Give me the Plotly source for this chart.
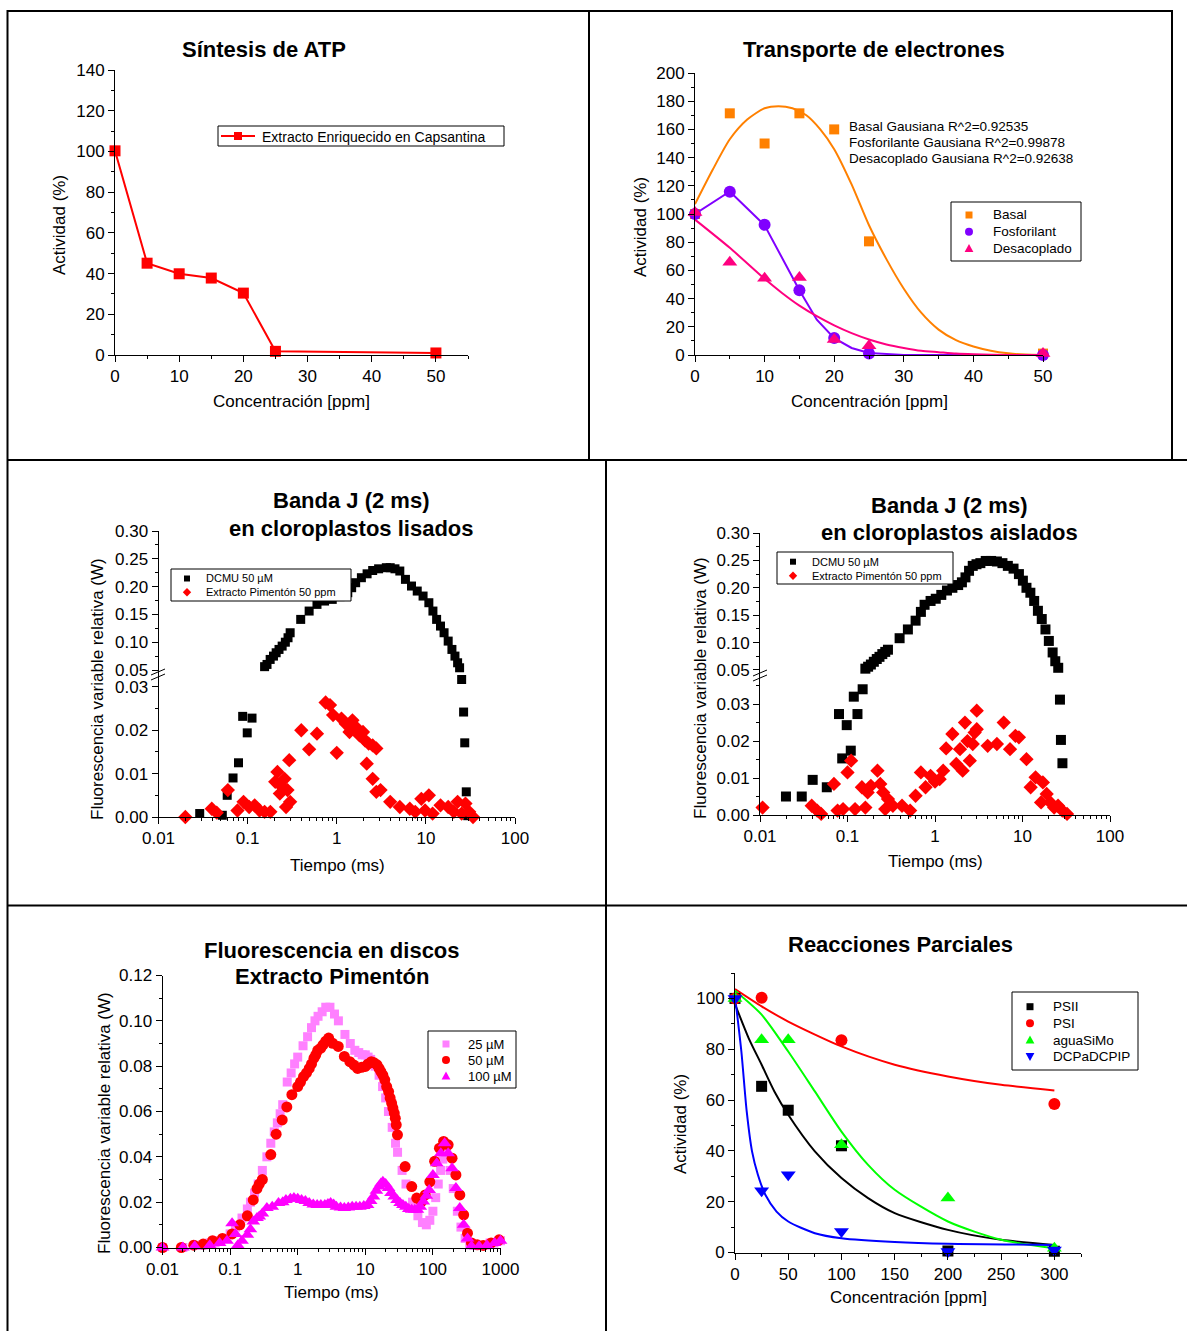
import plotly.graph_objects as go

W, H = 1187, 1331
FONT = "Liberation Sans, Arial, Helvetica, sans-serif"


def fx(p):
    return p / W


def fy(p):
    return 1 - p / H


# ---------------- Panel 1: Síntesis de ATP ----------------
ATP_CONC = [0, 5, 10, 15, 20, 25, 50]
ATP_ACT = [100.3, 45.1, 39.9, 37.8, 30.4, 1.8, 1.0]
ATP_NAME = "Extracto Enriquecido en Capsantina"

# ---------------- Panel 2: Transporte de electrones ----------------
ET_CONC = [0, 5, 10, 15, 20, 25, 50]
ET_BASAL = [100, 171.4, 150, 171.4, 160, 80.6, 1]
ET_FOSF = [100, 115.8, 92.4, 46, 12, 1, 0]
ET_DESAC = [101, 65.7, 54.4, 55, 11, 6.6, 1]
ET_NAMES = ["Basal", "Fosforilant", "Desacoplado"]

BASAL_FIT_X = [0, 2.5, 5, 7.5, 10, 12, 14, 16, 18, 20, 22.5, 25, 27.5, 30, 32.5, 35, 37.5, 40, 42.5, 45, 47.5, 50]
BASAL_FIT_Y = [107, 131, 153, 167, 175, 176.5, 175, 170, 160, 146, 121, 92, 68, 47, 30, 18, 10.5, 6, 3, 1.2, 0.3, 0]
FOSF_FIT_X = [0, 5, 10, 15, 17.5, 20, 22.5, 25, 30, 50]
FOSF_FIT_Y = [100, 116, 92, 46, 25, 12, 5, 1.5, 0, 0]
DESAC_FIT_X = [0, 5, 10, 12.5, 15, 17.5, 20, 22.5, 25, 27.5, 30, 32.5, 35, 37.5, 40, 45, 50]
DESAC_FIT_Y = [96, 76, 54, 44, 35, 27.5, 21, 15.5, 11, 7.5, 5, 3, 2, 1, 0.5, 0, 0]
ET_NOTES = ["Basal Gausiana R^2=0.92535", "Fosforilante Gausiana R^2=0.99878",
            "Desacoplado Gausiana R^2=0.92638"]

# ---------------- Panel 3: Banda J lisados ----------------
BJ_NAMES = ["DCMU 50 µM", "Extracto Pimentón 50 ppm"]
LIS_DCMU_LOW_T = [0.029, 0.052, 0.059, 0.0686, 0.079, 0.088, 0.099, 0.112, 25.2, 26.5, 27.3, 28.4, 29.5]
LIS_DCMU_LOW_V = [0.0008, 0.0004, 0.005, 0.009, 0.0125, 0.0232, 0.0194, 0.0228, 0.0317, 0.0242, 0.0171, 0.0058, 0.0003]
LIS_DCMU_UP_T = [0.155, 0.165, 0.179, 0.195, 0.209, 0.225, 0.244, 0.265, 0.284, 0.30,
                 0.394, 0.49, 0.6, 0.73, 0.89, 1.09, 1.33, 1.47, 1.63, 1.89,
                 2.19, 2.53, 2.95, 3.6, 3.98, 4.5, 5.1, 5.9, 6.9, 8.0,
                 9.3, 10.8, 12.0, 13.2, 14.6, 16.0, 17.8, 19.6, 21.2, 22.7, 23.9]
LIS_DCMU_UP_V = [0.056, 0.06, 0.069, 0.075, 0.081, 0.087, 0.093, 0.1, 0.108, 0.117,
                 0.141, 0.156, 0.168, 0.174, 0.177, 0.182, 0.189, 0.198, 0.207, 0.216,
                 0.223, 0.229, 0.232, 0.234, 0.234, 0.232, 0.228, 0.213, 0.201, 0.192,
                 0.183, 0.171, 0.156, 0.141, 0.129, 0.117, 0.102, 0.087, 0.075, 0.063, 0.054]
LIS_PIM_T = [0.02, 0.0396, 0.045, 0.06, 0.077, 0.09, 0.104, 0.12, 0.136, 0.155,
             0.18, 0.204, 0.216, 0.23, 0.244, 0.26, 0.27, 0.28, 0.30, 0.293,
             0.40, 0.49, 0.6, 0.75, 0.84, 0.91, 1.0, 1.13, 1.26, 1.39,
             1.5, 1.63, 1.8, 1.97, 2.07, 2.17, 2.28, 2.53, 2.53, 2.78,
             2.78, 3.1, 3.98, 5.1, 6.6, 7.6, 8.9, 9.8, 10.8, 11.9,
             14.6, 17.8, 20.6, 22.7, 25.2, 27.8, 30.6, 33.8]
LIS_PIM_V = [0, 0.0019, 0.001, 0.0062, 0.0015, 0.0035, 0.0023, 0.0027, 0.0015, 0.0012,
             0.0012, 0.0081, 0.0104, 0.0054, 0.0069, 0.0088, 0.0023, 0.0062, 0.0035, 0.0131,
             0.02, 0.0156, 0.0192, 0.0264, 0.0258, 0.0235, 0.0148, 0.0227, 0.0215, 0.0196,
             0.0223, 0.0208, 0.0188, 0.0196, 0.0177, 0.0123, 0.0169, 0.0165, 0.0088, 0.0158,
             0.0058, 0.0062, 0.0035, 0.0023, 0.0019, 0.0012, 0.0042, 0.0015, 0.005, 0.0008,
             0.0027, 0.0023, 0.0012, 0.0035, 0.0008, 0.0031, 0.0012, 0]

# ---------------- Panel 4: Banda J aislados ----------------
AIS_DCMU_LOW_T = [0.0198, 0.03, 0.04, 0.058, 0.08, 0.087, 0.098, 0.109, 0.118, 0.13, 0.149, 26.8, 27.5, 28.6]
AIS_DCMU_LOW_V = [0.005, 0.005, 0.0095, 0.0075, 0.0273, 0.0153, 0.0243, 0.0174, 0.032, 0.0273, 0.034, 0.0312, 0.0203, 0.014]
AIS_DCMU_UP_T = [0.16, 0.172, 0.185, 0.2, 0.216, 0.232, 0.25, 0.27, 0.29, 0.394,
                 0.49, 0.6, 0.69, 0.76, 0.89, 1.02, 1.18, 1.37, 1.58, 1.84,
                 2.03, 2.23, 2.45, 2.7, 2.98, 3.3, 3.8, 4.38, 5.1, 5.9,
                 6.8, 7.9, 9.1, 10.1, 11.1, 12.3, 13.6, 15.0, 16.6, 18.3,
                 20.0, 22.1, 23.7, 25.6]
AIS_DCMU_UP_V = [0.0524, 0.056, 0.06, 0.065, 0.07, 0.074, 0.079, 0.083, 0.087, 0.108,
                 0.124, 0.14, 0.156, 0.169, 0.176, 0.18, 0.187, 0.195, 0.2, 0.205,
                 0.21, 0.219, 0.231, 0.24, 0.243, 0.245, 0.249, 0.249, 0.248, 0.245,
                 0.24, 0.235, 0.225, 0.213, 0.2, 0.191, 0.176, 0.158, 0.143, 0.124,
                 0.103, 0.082, 0.066, 0.054]
AIS_PIM_T = [0.0107, 0.039, 0.045, 0.05, 0.07, 0.077, 0.089, 0.1, 0.11, 0.122,
             0.146, 0.16, 0.17, 0.185, 0.22, 0.237, 0.256, 0.27, 0.29, 0.33,
             0.42, 0.52, 0.6, 0.69, 0.78, 0.89, 1.0, 1.13, 1.24, 1.34,
             1.58, 1.75, 1.93, 2.07, 2.2, 2.35, 2.5, 2.7, 2.84, 3.0,
             3.0, 4.0, 5.1, 6.1, 7.2, 8.3, 9.1, 11.1, 12.4, 14.1,
             16.3, 17.1, 18.9, 20.8, 23.0, 25.5, 28.5, 32.3]
AIS_PIM_V = [0.002, 0.0025, 0.0012, 0.0003, 0.0084, 0.0012, 0.0016, 0.0115, 0.0147, 0.0016,
             0.0075, 0.002, 0.0061, 0.0079, 0.012, 0.0084, 0.0061, 0.0016, 0.0043, 0.0025,
             0.0025, 0.0012, 0.0052, 0.0115, 0.0075, 0.0106, 0.009, 0.0097, 0.012, 0.018,
             0.0219, 0.0138, 0.0178, 0.012, 0.025, 0.02, 0.0147, 0.0192, 0.0223, 0.0232,
             0.0282, 0.0187, 0.0192, 0.025, 0.0178, 0.0214, 0.021, 0.0151, 0.0075, 0.0102,
             0.0034, 0.0088, 0.0057, 0.0034, 0.002, 0.0025, 0.0012, 0.0003]

# ---------------- Panel 5: Fluorescencia en discos ----------------
FD_NAMES = ["25 µM", "50 µM", "100 µM"]
D25_T = [0.01, 0.02, 0.03, 0.04, 0.05, 0.06, 0.07, 0.08, 0.1, 0.12, 0.15, 0.18, 0.2, 0.23, 0.26, 0.3,
         0.35, 0.4, 0.45, 0.5, 0.55, 0.6, 0.7, 0.8, 0.9, 1.0, 1.2, 1.4, 1.6, 1.8, 2.0, 2.3, 2.6, 3.0,
         3.5, 4.0, 5, 6, 7, 8, 9, 10, 11, 12, 14, 16, 18, 20, 22, 25, 28, 30, 35, 40, 50, 60,
         70, 80, 90, 100, 110, 120, 130, 140, 150, 160, 180, 200, 230, 260, 300, 350, 400, 500, 600, 700,
         800, 1000]
D25_V = [0, 0, 0.001, 0.001, 0.002, 0.002, 0.003, 0.004, 0.006, 0.009, 0.013, 0.017, 0.02, 0.024, 0.028, 0.034,
         0.04, 0.046, 0.051, 0.055, 0.059, 0.063, 0.073, 0.077, 0.081, 0.084, 0.089, 0.093, 0.097, 0.1, 0.102,
         0.104, 0.106, 0.106, 0.103, 0.1, 0.094, 0.09, 0.087, 0.086, 0.085, 0.085, 0.084, 0.083, 0.08, 0.076,
         0.071, 0.066, 0.06, 0.053, 0.046, 0.042, 0.034, 0.028, 0.02, 0.014,
         0.011, 0.01, 0.012, 0.016, 0.022, 0.028, 0.034, 0.039, 0.042, 0.041, 0.034, 0.026, 0.016, 0.009,
         0.004, 0.002, 0.001, 0.001, 0.001, 0.002, 0.002, 0.003]
D50_T = [0.01, 0.019, 0.029, 0.04, 0.055, 0.077, 0.107, 0.139, 0.18, 0.22,
         0.25, 0.27, 0.3, 0.4, 0.48, 0.59, 0.69, 0.82, 1.0, 1.1,
         1.22, 1.35, 1.48, 1.6, 1.74, 1.85, 1.98, 2.2, 2.37, 2.6,
         2.87, 3.3, 3.98, 4.9, 5.9, 6.8, 7.7, 8.8, 10, 11,
         12.3, 13.5, 14.9, 16, 17, 18.2, 19.4, 20.7, 22.1, 23.3,
         24.5, 25.6, 26.8, 27.8, 28.7, 29.9, 38.8, 48.6, 57.7, 67.7,
         77, 90, 106, 125, 144, 168, 192, 219, 250, 285,
         325, 372, 452, 556, 727, 950]
D50_V = [0, 0, 0.001, 0.0015, 0.003, 0.004, 0.006, 0.01, 0.014, 0.021,
         0.026, 0.028, 0.03, 0.041, 0.05, 0.0563, 0.062, 0.0674, 0.071, 0.073,
         0.0754, 0.077, 0.079, 0.081, 0.0835, 0.085, 0.087, 0.088, 0.0894, 0.091,
         0.0924, 0.0901, 0.0887, 0.0843, 0.082, 0.0805, 0.079, 0.0795, 0.0799, 0.081,
         0.082, 0.0815, 0.0806, 0.079, 0.0776, 0.076, 0.074, 0.071, 0.0688, 0.066,
         0.0637, 0.0615, 0.0593, 0.057, 0.0541, 0.0497, 0.0357, 0.0269, 0.0218, 0.0203,
         0.0232, 0.029, 0.038, 0.0438, 0.0468, 0.0453, 0.0394, 0.032, 0.0232, 0.0144,
         0.0063, 0.002, 0.0012, 0.0009, 0.002, 0.0034]
D100_T = [0.01, 0.02, 0.03, 0.05, 0.07, 0.09, 0.107, 0.12, 0.13, 0.15,
          0.18, 0.2, 0.22, 0.25, 0.27, 0.3, 0.35, 0.42, 0.52, 0.6,
          0.67, 0.78, 0.88, 1.0, 1.14, 1.3, 1.48, 1.7, 1.94, 2.2,
          2.52, 2.8, 3.07, 3.4, 3.73, 4.3, 4.9, 5.6, 6.4, 7.3,
          8.3, 9.5, 10.8, 12, 13.2, 14.6, 16, 17, 18.2, 20,
          22.1, 24, 26.8, 29.5, 32.7, 36, 39.8, 44, 48.6, 54,
          59, 65, 72, 80, 88, 100, 114, 131, 149, 168,
          192, 219, 250, 285, 325, 372, 482, 630, 820, 1000]
D100_V = [0, 0, 0.0005, 0.001, 0.002, 0.003, 0.0107, 0.006, 0.001, 0.003,
          0.0056, 0.008, 0.0115, 0.013, 0.0137, 0.015, 0.0174, 0.018, 0.0196, 0.020,
          0.021, 0.0215, 0.0218, 0.0215, 0.021, 0.0205, 0.0196, 0.019, 0.0188, 0.0188,
          0.0188, 0.0192, 0.0196, 0.019, 0.018, 0.0177, 0.0174, 0.0177, 0.018, 0.018,
          0.018, 0.0183, 0.0188, 0.0205, 0.0225, 0.025, 0.0269, 0.0282, 0.029, 0.028,
          0.0262, 0.024, 0.0225, 0.021, 0.0196, 0.0188, 0.018, 0.017, 0.0166, 0.0166,
          0.0166, 0.018, 0.0203, 0.0228, 0.0254, 0.032, 0.0372, 0.0416, 0.0460, 0.0416,
          0.035, 0.0262, 0.0174, 0.01, 0.004, 0.0005, 0.0005, 0.001, 0.002, 0.003]

# ---------------- Panel 6: Reacciones Parciales ----------------
RP_NAMES = ["PSII", "PSI", "aguaSiMo", "DCPaDCPIP"]
RP_CONC = [0, 25, 50, 100, 200, 300]
RP_PSII = [100, 65.4, 56, 42, 0.6, 0.5]
RP_PSI = [100, 100.3, None, 83.5, None, 58.4]
RP_AGUA = [100, 83.7, 83.7, 42.4, 21.4, 1.7]
RP_DCP = [100, 24.3, 30.6, 8.3, 0.4, 1.0]

FIT_PSI_X = [0, 25, 50, 100, 150, 200, 250, 300]
FIT_PSI_Y = [103.7, 96.9, 90.9, 81.1, 73.9, 69.3, 66, 63.8]
FIT_PSII_X = [0, 12.8, 25, 37, 50, 75, 100, 125, 150, 200, 250, 300]
FIT_PSII_Y = [97.8, 84.4, 73.9, 63.4, 54.2, 39.8, 29.3, 21.4, 15.5, 8.9, 5, 3]
FIT_AGUA_X = [0, 25, 50, 75, 100, 125, 150, 200, 250, 300]
FIT_AGUA_Y = [103, 93.6, 79.1, 63.4, 47.6, 34.5, 24.7, 12.2, 5, 1.7]
FIT_DCP_X = [0, 6, 11, 16, 21.5, 28.5, 39, 50, 75, 100, 150, 200, 300]
FIT_DCP_Y = [100.8, 79, 55.5, 39.8, 30.6, 22.7, 16.1, 12.2, 7.6, 5.6, 4.1, 3.4, 3]

LOG_TICKS = [0.01, 0.1, 1, 10, 100, 1000]
LOG_LABELS = ["0.01", "0.1", "1", "10", "100", "1000"]
LOG_MINOR = [k * 10.0 ** e for e in range(-2, 3) for k in range(2, 10)]

RED = "#FF0000"
ORANGE = "#FF8000"
PURPLE = "#8000FF"
PINK = "#FF0080"
BLACK = "#000000"
LPINK = "#FF80FF"
MAGENTA = "#FF00FF"
GREEN = "#00FF00"
BLUE = "#0000FF"


def axis(**kw):
    d = dict(showline=True, linecolor="black", linewidth=1, ticks="outside", ticklen=6,
             tickwidth=1, tickcolor="black", showgrid=False, zeroline=False, automargin=False,
             tickfont=dict(family=FONT, size=17, color="black"), fixedrange=True)
    d.update(kw)
    return d


def mnr(dt=None, vals=None):
    m = dict(ticks="outside", ticklen=3, tickwidth=1, tickcolor="black", showgrid=False)
    if dt is not None:
        m["dtick"] = dt
    if vals is not None:
        m["tickmode"] = "array"
        m["tickvals"] = vals
    return m


def logaxis(**kw):
    d = axis(type="log", tickmode="array", tickvals=LOG_TICKS, ticktext=LOG_LABELS,
             minor=mnr(vals=LOG_MINOR))
    d.update(kw)
    return d


fig = go.Figure()


def pts(x, y, xa, ya, sym, size, color, mode="markers", line=None, name=None):
    kw = dict(x=x, y=y, xaxis=xa, yaxis=ya, mode=mode, showlegend=False, cliponaxis=False,
              name=name, marker=dict(symbol=sym, size=size, color=color))
    if line is not None:
        kw["line"] = line
    fig.add_trace(go.Scatter(**kw))


def fit(x, y, xa, ya, color, shape="spline"):
    fig.add_trace(go.Scatter(x=x, y=y, xaxis=xa, yaxis=ya, mode="lines", showlegend=False,
                             hoverinfo="skip", cliponaxis=False,
                             line=dict(color=color, width=2, shape=shape, smoothing=0.7)))


# Panel 1
pts(ATP_CONC, ATP_ACT, "x", "y", "square", 11, RED, mode="lines+markers",
    line=dict(color=RED, width=2), name=ATP_NAME)

# Panel 2
fit(BASAL_FIT_X, BASAL_FIT_Y, "x2", "y2", ORANGE)
fit(FOSF_FIT_X, FOSF_FIT_Y, "x2", "y2", PURPLE, "linear")
fit(DESAC_FIT_X, DESAC_FIT_Y, "x2", "y2", PINK)
pts(ET_CONC, ET_BASAL, "x2", "y2", "square", 10, ORANGE, name=ET_NAMES[0])
pts(ET_CONC, ET_FOSF, "x2", "y2", "circle", 12, PURPLE, name=ET_NAMES[1])
pts(ET_CONC, ET_DESAC, "x2", "y2", "triangle-up", 13, PINK, name=ET_NAMES[2])

# Panel 3
pts(LIS_DCMU_UP_T, LIS_DCMU_UP_V, "x3", "y4", "square", 9, BLACK, name=BJ_NAMES[0])
pts(LIS_DCMU_LOW_T, LIS_DCMU_LOW_V, "x3", "y3", "square", 9, BLACK, name=BJ_NAMES[0])
pts(LIS_PIM_T, LIS_PIM_V, "x3", "y3", "diamond", 11, RED, name=BJ_NAMES[1])

# Panel 4
pts(AIS_DCMU_UP_T, AIS_DCMU_UP_V, "x4", "y6", "square", 10, BLACK, name=BJ_NAMES[0])
pts(AIS_DCMU_LOW_T, AIS_DCMU_LOW_V, "x4", "y5", "square", 10, BLACK, name=BJ_NAMES[0])
pts(AIS_PIM_T, AIS_PIM_V, "x4", "y5", "diamond", 11, RED, name=BJ_NAMES[1])

# Panel 5
pts(D25_T, D25_V, "x5", "y7", "square", 9, LPINK, name=FD_NAMES[0])
pts(D50_T, D50_V, "x5", "y7", "circle", 11, RED, name=FD_NAMES[1])
pts(D100_T, D100_V, "x5", "y7", "triangle-up", 12, MAGENTA, name=FD_NAMES[2])

# Panel 6
fit(FIT_PSII_X, FIT_PSII_Y, "x6", "y8", BLACK)
fit(FIT_PSI_X, FIT_PSI_Y, "x6", "y8", RED)
fit(FIT_AGUA_X, FIT_AGUA_Y, "x6", "y8", GREEN)
fit(FIT_DCP_X, FIT_DCP_Y, "x6", "y8", BLUE)
pts(RP_CONC, RP_PSII, "x6", "y8", "square", 11, BLACK, name=RP_NAMES[0])
pts(RP_CONC, RP_PSI, "x6", "y8", "circle", 12, RED, name=RP_NAMES[1])
pts(RP_CONC, RP_AGUA, "x6", "y8", "triangle-up", 13, GREEN, name=RP_NAMES[2])
pts(RP_CONC, RP_DCP, "x6", "y8", "triangle-down", 13, BLUE, name=RP_NAMES[3])

annotations = []


def text(x, y, s, size=17, bold=False, angle=0, xanchor="center"):
    annotations.append(dict(x=fx(x), y=fy(y), xref="paper", yref="paper", showarrow=False,
                            text=("<b>%s</b>" % s) if bold else s, textangle=angle,
                            xanchor=xanchor, yanchor="middle",
                            font=dict(family=FONT, size=size, color="black")))


# titles
text(264, 50, "Síntesis de ATP", 22, True)
text(874, 50, "Transporte de electrones", 22, True)
text(351, 501, "Banda J (2 ms)", 22, True)
text(351, 528, "en cloroplastos lisados", 22, True)
text(949, 505, "Banda J (2 ms)", 22, True)
text(949, 532, "en cloroplastos aislados", 22, True)
text(332, 950, "Fluorescencia en discos", 22, True)
text(332, 976, "Extracto Pimentón", 22, True)
text(900, 944, "Reacciones Parciales", 22, True)
# axis titles
text(291, 401, "Concentración [ppm]")
text(59, 225, "Actividad (%)", angle=-90)
text(869, 401, "Concentración [ppm]")
text(640, 227, "Actividad (%)", angle=-90)
text(337, 865, "Tiempo (ms)")
text(97, 689, "Fluorescencia variable relativa (W)", angle=-90)
text(935, 861, "Tiempo (ms)")
text(700, 688, "Fluorescencia variable relativa (W)", angle=-90)
text(331, 1292, "Tiempo (ms)")
text(104, 1123, "Fluorescencia variable relativa (W)", angle=-90)
text(908, 1297, "Concentración [ppm]")
text(680, 1124, "Actividad (%)", angle=-90)
# fit notes
for i, s in enumerate(ET_NOTES):
    text(847, 126 + 16.3 * i, s, 13.5, xanchor="left")

shapes = []


def seg(x0, y0, x1, y1, w=2, color="black"):
    shapes.append(dict(type="line", xref="paper", yref="paper", x0=fx(x0), y0=fy(y0),
                       x1=fx(x1), y1=fy(y1), line=dict(color=color, width=w)))


def box(x0, y0, x1, y1):
    shapes.append(dict(type="rect", xref="paper", yref="paper", x0=fx(x0), y0=fy(y1),
                       x1=fx(x1), y1=fy(y0), fillcolor="white",
                       line=dict(color="black", width=1)))


def sym(kind, cx, cy, s, color):
    h = s / 2.0
    if kind == "square":
        shapes.append(dict(type="rect", xref="paper", yref="paper", x0=fx(cx - h), x1=fx(cx + h),
                           y0=fy(cy + h), y1=fy(cy - h), fillcolor=color, line=dict(width=0)))
        return
    if kind == "circle":
        shapes.append(dict(type="circle", xref="paper", yref="paper", x0=fx(cx - h), x1=fx(cx + h),
                           y0=fy(cy + h), y1=fy(cy - h), fillcolor=color, line=dict(width=0)))
        return
    if kind == "triangle-up":
        p = [(cx, cy - h * 1.1), (cx - h * 1.1, cy + h * 0.9), (cx + h * 1.1, cy + h * 0.9)]
    elif kind == "triangle-down":
        p = [(cx, cy + h * 1.1), (cx - h * 1.1, cy - h * 0.9), (cx + h * 1.1, cy - h * 0.9)]
    else:  # diamond
        p = [(cx, cy - h * 1.2), (cx + h * 1.2, cy), (cx, cy + h * 1.2), (cx - h * 1.2, cy)]
    path = "M " + " L ".join("%.6f,%.6f" % (fx(a), fy(b)) for a, b in p) + " Z"
    shapes.append(dict(type="path", xref="paper", yref="paper", path=path, fillcolor=color,
                       line=dict(width=0)))


def legend(bx0, by0, bx1, by1, sx, tx, rows, size):
    box(bx0, by0, bx1, by1)
    for (kind, color, ssz, y, label) in rows:
        sym(kind, sx, y, ssz, color)
        text(tx, y, label, size, xanchor="left")


# cell borders
seg(7, 11, 1172, 11)
seg(7.5, 10, 7.5, 1331)
seg(589, 10, 589, 460)
seg(1172, 10, 1172, 460)
seg(7, 460, 1187, 460)
seg(606, 460, 606, 1331)
seg(7, 905.5, 1187, 905.5)
# axis break marks
seg(151, 675, 165, 669, 1)
seg(151, 680, 165, 674, 1)
seg(753, 676, 767, 670, 1)
seg(753, 681, 767, 675, 1)

# legends (drawn as boxes above the data, like the original)
box(218, 126, 504, 146)
seg(221, 136, 255, 136, 2, RED)
sym("square", 238, 136, 8, RED)
text(260, 136.5, ATP_NAME, 14, xanchor="left")

legend(951, 202, 1081, 261, 969, 991,
       [("square", ORANGE, 7, 215, ET_NAMES[0]),
        ("circle", PURPLE, 8, 231.7, ET_NAMES[1]),
        ("triangle-up", PINK, 8, 248.3, ET_NAMES[2])], 13.5)
legend(171, 569, 351, 601, 187, 204,
       [("square", BLACK, 6, 578.5, BJ_NAMES[0]),
        ("diamond", RED, 7, 592.3, BJ_NAMES[1])], 11)
legend(777, 552, 953, 584, 793, 810,
       [("square", BLACK, 6, 561.7, BJ_NAMES[0]),
        ("diamond", RED, 7, 575.7, BJ_NAMES[1])], 11)
legend(428, 1031, 516, 1088, 446, 466,
       [("square", LPINK, 7, 1044, FD_NAMES[0]),
        ("circle", RED, 8, 1060, FD_NAMES[1]),
        ("triangle-up", MAGENTA, 8, 1076, FD_NAMES[2])], 13)
legend(1012, 992, 1138, 1070, 1030, 1051,
       [("square", BLACK, 7, 1006.7, RP_NAMES[0]),
        ("circle", RED, 8, 1023.3, RP_NAMES[1]),
        ("triangle-up", GREEN, 8, 1040, RP_NAMES[2]),
        ("triangle-down", BLUE, 8, 1056.7, RP_NAMES[3])], 13.5)

fig.update_layout(
    width=W, height=H, autosize=False,
    margin=dict(l=0, r=0, t=0, b=0, pad=0, autoexpand=False),
    paper_bgcolor="white", plot_bgcolor="white",
    font=dict(family=FONT, color="black"),
    showlegend=False,
    # panel 1
    xaxis=axis(domain=[fx(115), fx(468)], range=[0, 55], anchor="y", dtick=10, tick0=0, minor=mnr(5)),
    yaxis=axis(domain=[fy(355), fy(70)], range=[0, 140], anchor="x", dtick=20, tick0=0, minor=mnr(10)),
    # panel 2
    xaxis2=axis(domain=[fx(695), fx(1043)], range=[0, 50], anchor="y2", dtick=10, tick0=0, minor=mnr(5)),
    yaxis2=axis(domain=[fy(355), fy(73)], range=[0, 200], anchor="x2", dtick=20, tick0=0, minor=mnr(10)),
    # panel 3
    xaxis3=logaxis(domain=[fx(158.5), fx(515)], range=[-2, 2], anchor="y3"),
    yaxis3=axis(domain=[fy(817), fy(673)], range=[0, 0.0332], anchor="x3", dtick=0.01, tick0=0,
                tickformat=".2f", minor=mnr(0.005)),
    yaxis4=axis(domain=[fy(673), fy(531)], range=[0.0446, 0.30], anchor="x3", dtick=0.05, tick0=0,
                tickformat=".2f", minor=mnr(0.025)),
    # panel 4
    xaxis4=logaxis(domain=[fx(760), fx(1110)], range=[-2, 2], anchor="y5"),
    yaxis5=axis(domain=[fy(815), fy(673)], range=[0, 0.0384], anchor="x4", dtick=0.01, tick0=0,
                tickformat=".2f", minor=mnr(0.005)),
    yaxis6=axis(domain=[fy(673), fy(533)], range=[0.0445, 0.30], anchor="x4", dtick=0.05, tick0=0,
                tickformat=".2f", minor=mnr(0.025)),
    # panel 5
    xaxis5=logaxis(domain=[fx(162.5), fx(500.5)], range=[-2, 3], anchor="y7"),
    yaxis7=axis(domain=[fy(1247.5), fy(975.5)], range=[0, 0.12], anchor="x5", dtick=0.02, tick0=0,
                tickformat=".2f", minor=mnr(0.01)),
    # panel 6
    xaxis6=axis(domain=[fx(735), fx(1081)], range=[0, 325], anchor="y8", dtick=50, tick0=0, minor=mnr(25)),
    yaxis8=axis(domain=[fy(1252.5), fy(973)], range=[0, 110], anchor="x6", dtick=20, tick0=0, minor=mnr(10)),
    annotations=annotations,
    shapes=shapes,
)

fig.write_html("out.html", include_plotlyjs=True, full_html=True,
               config={"displayModeBar": False, "responsive": False},
               post_script="document.body.style.margin='0';document.body.style.overflow='hidden';")
